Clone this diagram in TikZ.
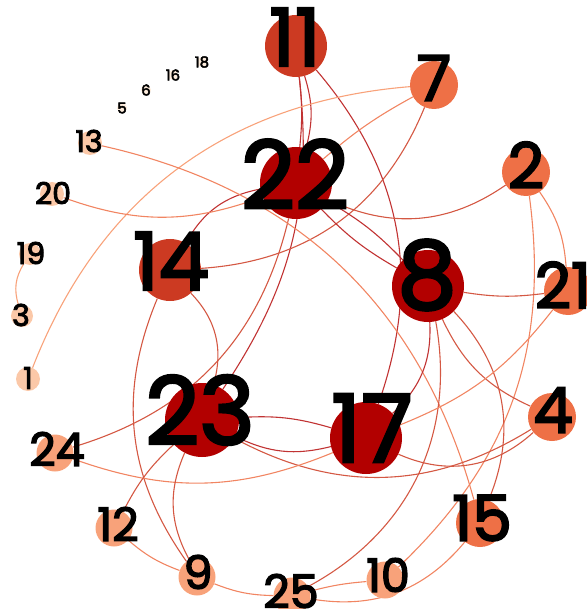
\documentclass[tikz,border=0pt]{standalone}
\usepackage{fontspec}
\newfontfamily\numfont{Poppins}[FakeBold=3]
\usepackage{tikz}
\usetikzlibrary{backgrounds}
\definecolor{hubred}{RGB}{178,0,0}
\definecolor{brick}{RGB}{204,58,34}
\definecolor{tangerine}{RGB}{238,112,70}
\definecolor{salmon}{RGB}{248,162,122}
\definecolor{peach}{RGB}{251,200,168}
\definecolor{cream}{RGB}{253,236,220}
\tikzstyle{hub} = [circle, inner sep=0pt, minimum size=72pt, fill=hubred]
\tikzstyle{major} = [circle, inner sep=0pt, minimum size=62pt, fill=brick]
\tikzstyle{middle} = [circle, inner sep=0pt, minimum size=48pt, fill=tangerine]
\tikzstyle{minor} = [circle, inner sep=0pt, minimum size=37pt, fill=salmon]
\tikzstyle{leaf} = [circle, inner sep=0pt, minimum size=24pt, fill=peach]
\tikzstyle{stray} = [circle, inner sep=0pt, minimum size=10pt, fill=cream]
\tikzstyle{hubtext} = [inner sep=0pt, font=\numfont\fontsize{94}{94}\selectfont]
\tikzstyle{majortext} = [inner sep=0pt, font=\numfont\fontsize{80}{80}\selectfont]
\tikzstyle{middletext} = [inner sep=0pt, font=\numfont\fontsize{63}{63}\selectfont]
\tikzstyle{minortext} = [inner sep=0pt, font=\numfont\fontsize{46}{46}\selectfont]
\tikzstyle{leaftext} = [inner sep=0pt, font=\numfont\fontsize{30}{30}\selectfont]
\tikzstyle{straytext} = [inner sep=0pt, font=\numfont\fontsize{15}{15}\selectfont]
\tikzstyle{linkdark} = [draw=hubred!80!white, line width=1.1pt]
\tikzstyle{linkmid} = [draw=brick!85!white, line width=1.1pt]
\tikzstyle{linklight} = [draw=tangerine!85!white, line width=1.1pt]
\tikzstyle{linkpale} = [draw=salmon, line width=1.1pt]

\begin{document}
\begin{tikzpicture}[x=1pt, y=-1pt]
\useasboundingbox (0,0) rectangle (586,609);

% nodes
\node (n11) [major] at (296,46) {};
\node (n7) [middle] at (434,85) {};
\node (n22) [hub] at (296,183) {};
\node (n2) [middle] at (526,172) {};
\node (n14) [major] at (170,270) {};
\node (n8) [hub] at (428,286) {};
\node (n21) [middle] at (568,291) {};
\node (n23) [hub, minimum size=74pt] at (202,420) {};
\node (n17) [hub] at (366,438) {};
\node (n4) [middle] at (552,417) {};
\node (n24) [minor] at (55,453) {};
\node (n12) [minor] at (114,528) {};
\node (n9) [minor] at (197,577) {};
\node (n25) [minor] at (292,596) {};
\node (n10) [minor] at (385,580) {};
\node (n15) [middle] at (480,523) {};
\node (n13) [leaf] at (90,143) {};
\node (n20) [leaf] at (52,194) {};
\node (n19) [leaf, minimum size=22pt] at (30,254) {};
\node (n3) [leaf, minimum size=22pt] at (22,316) {};
\node (n1) [leaf] at (28,379) {};
\node (n5) [stray] at (122,108) {};
\node (n6) [stray] at (146,90) {};
\node (n16) [stray] at (173,75) {};
\node (n18) [stray] at (202,62) {};

% links
\begin{scope}[on background layer]
\draw [linkdark] (n11) to[bend left=6] (n22);
\draw [linkdark] (n11) to[bend left=16] (n22);
\draw [linkdark] (n11) to[bend left=20] (n23);
\draw [linkdark] (n11) to[bend left=30] (n17);
\draw [linkpale] (n7) to[bend right=32] (n1);
\draw [linklight] (n7) to[bend right=6] (n22);
\draw [linkmid] (n7) to[bend left=32] (n14);
\draw [linkdark] (n14) to[bend left=25] (n22);
\draw [linkmid] (n22) to[bend right=30] (n2);
\draw [linkdark] (n22) to[bend left=8] (n8);
\draw [linkdark] (n22) to[bend right=8] (n8);
\draw [linkmid] (n24) to[bend right=30] (n22);
\draw [linklight] (n20) to[bend right=20] (n22);
\draw [linklight] (n13) to[bend left=31] (n15);
\draw [linkmid] (n14) to[bend left=30] (n23);
\draw [linkmid] (n14) to[bend right=29] (n9);
\draw [linklight] (n2) to[bend left=15] (n21);
\draw [linklight] (n2) to[bend left=27] (n10);
\draw [linkmid] (n8) to[bend right=8] (n21);
\draw [linkmid] (n8) to[bend right=20] (n4);
\draw [linkmid] (n8) to[bend left=33] (n15);
\draw [linkdark] (n8) to[bend left=25] (n17);
\draw [linkmid] (n8) to[bend left=36] (n25);
\draw [linklight] (n21) to[bend left=15] (n17);
\draw [linkdark] (n23) to[bend left=10] (n17);
\draw [linkdark] (n23) to[bend right=20] (n17);
\draw [linkmid] (n23) to[bend right=30] (n4);
\draw [linkmid] (n17) to[bend right=33] (n4);
\draw [linklight] (n24) to[bend right=21] (n17);
\draw [linkmid] (n12) to[bend left=10] (n23);
\draw [linklight] (n12) to[bend right=10] (n9);
\draw [linkmid] (n9) to[bend left=26] (n23);
\draw [linklight] (n9) to[bend right=10] (n25);
\draw [linklight] (n25) to[bend left=5] (n10);
\draw [linklight] (n25) to[bend right=30] (n15);
\draw [linkpale] (n19) to[bend right=25] (n3);
\end{scope}

% labels
\node (t11) [majortext] at (295,37) {11};
\node (t7) [middletext] at (434,78) {7};
\node (t22) [hubtext] at (295,174) {22};
\node (t2) [middletext] at (526,165) {2};
\node (t14) [majortext] at (171,261) {14};
\node (t8) [hubtext] at (427,275) {8};
\node (t21) [middletext] at (563,285) {21};
\node (t23) [hubtext] at (200,410) {23};
\node (t17) [hubtext] at (372,428) {17};
\node (t4) [middletext] at (553,410) {4};
\node (t24) [minortext] at (57,449) {24};
\node (t12) [minortext] at (118,524) {12};
\node (t9) [minortext] at (198,572) {9};
\node (t25) [minortext] at (291,591) {25};
\node (t10) [minortext] at (388,575) {10};
\node (t15) [middletext] at (482,518) {15};
\node (t13) [leaftext] at (89,141) {13};
\node (t20) [leaftext] at (53,193) {20};
\node (t19) [leaftext] at (31,253) {19};
\node (t3) [leaftext] at (21,315) {3};
\node (t1) [leaftext] at (28,378) {1};
\node (t5) [straytext] at (122,108) {5};
\node (t6) [straytext] at (146,90) {6};
\node (t16) [straytext] at (173,75) {16};
\node (t18) [straytext] at (202,62) {18};

\end{tikzpicture}
\end{document}
